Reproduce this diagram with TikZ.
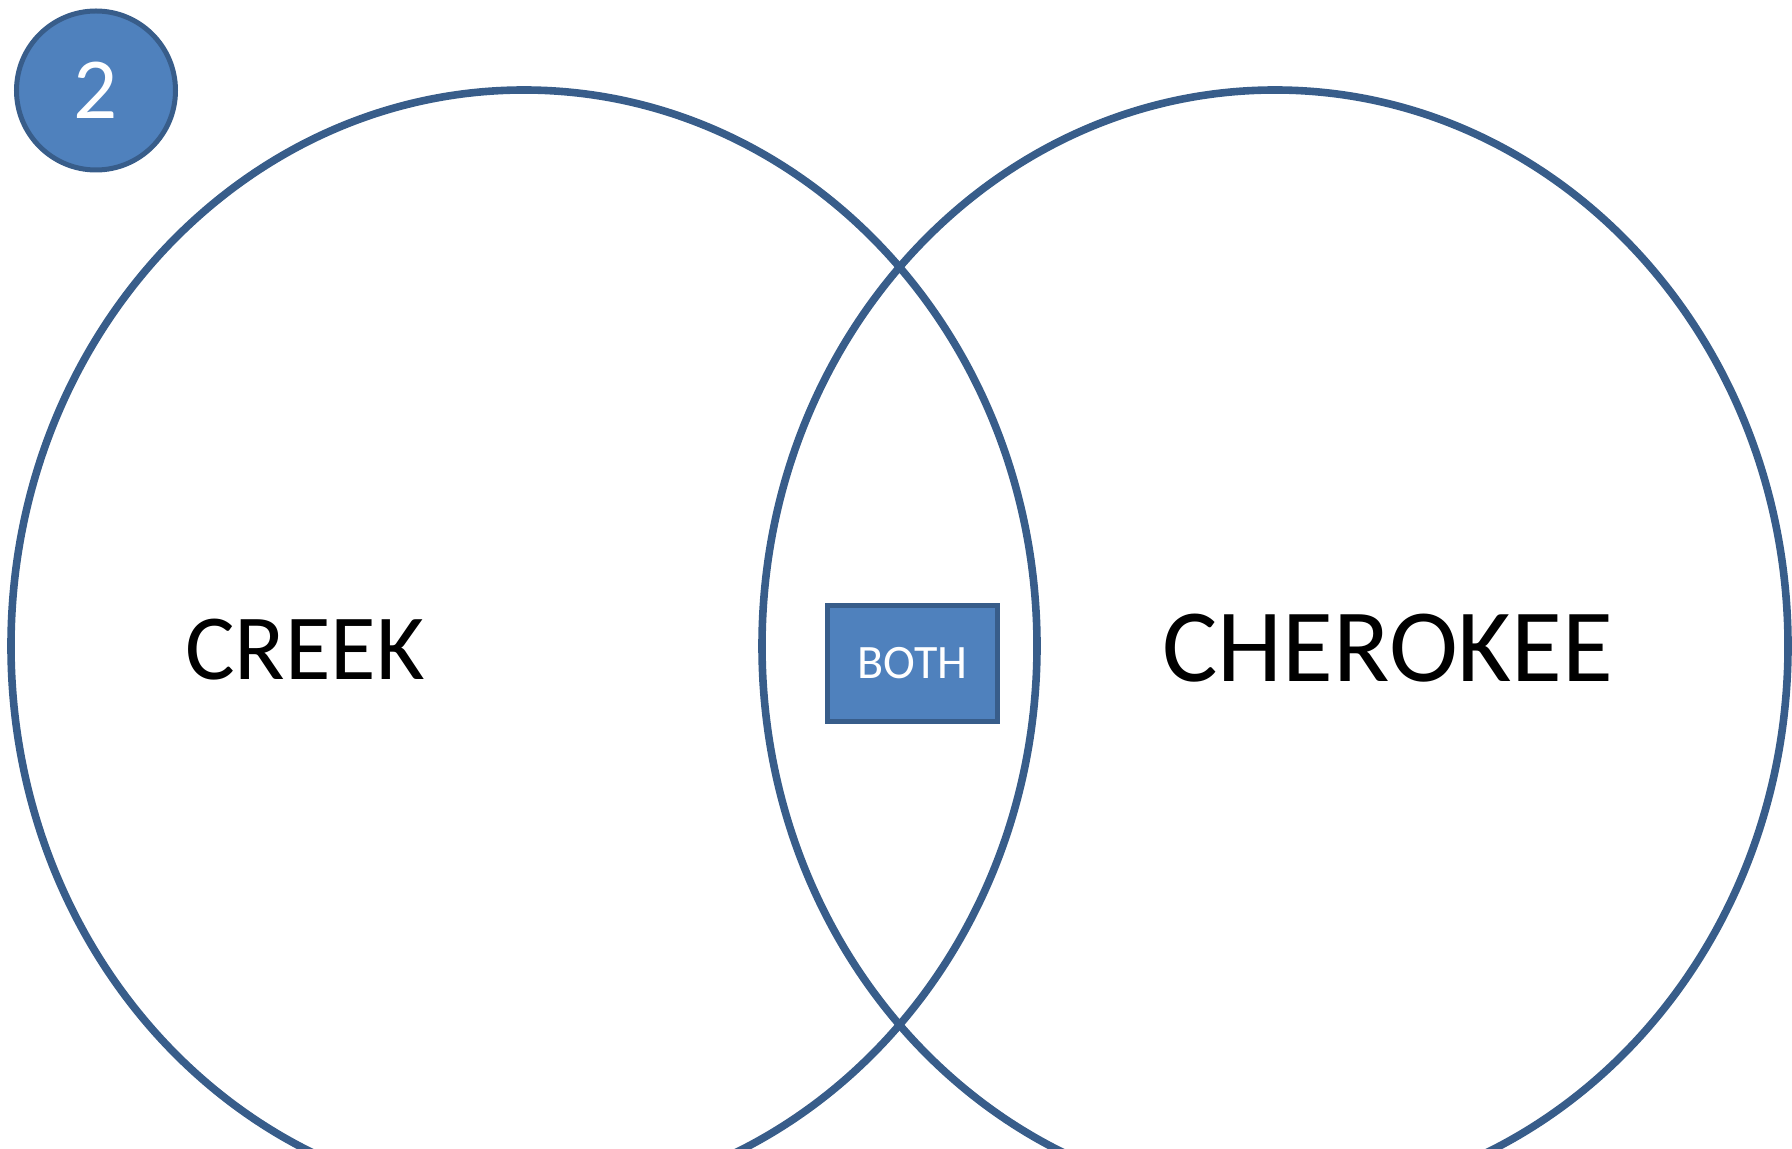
\documentclass[tikz,border=0pt]{standalone}
\usepackage{fontspec}
\setmainfont{Carlito}
\definecolor{vennline}{HTML}{385D8A}
\definecolor{vennfill}{HTML}{4F81BD}
\tikzset{
  venn/.style={draw=vennline, line width=3.8pt},
  bluebox/.style={draw=vennline, fill=vennfill, line width=2.5pt, text=white},
  label/.style={text=black, inner sep=0pt}
}
\begin{document}
\begin{tikzpicture}[x=0.5pt, y=-0.5pt]
\useasboundingbox (0,0) rectangle (1792,1149) ;
\clip (0,0) rectangle (1792,1149) ;
\draw[venn] (524,646) ellipse[x radius=513, y radius=556] ;
\draw[venn] (1275,646) ellipse[x radius=513, y radius=556] ;
\node[label, font=\fontsize{46.6pt}{50pt}\selectfont] (creek) at (305,650) {CREEK} ;
\node[label, font=\fontsize{52pt}{56pt}\selectfont] (cherokee) at (1388,648) {CHEROKEE} ;
\node[bluebox, rectangle, minimum width=85pt, minimum height=58pt, font=\fontsize{24pt}{26pt}\selectfont] (both) at (912.5,663.5) {BOTH} ;
\node[bluebox, circle, minimum size=79.5pt, inner sep=0pt, font=\fontsize{43.5pt}{46pt}\selectfont] (badge) at (96,90.5) {2} ;
\end{tikzpicture}
\end{document}
